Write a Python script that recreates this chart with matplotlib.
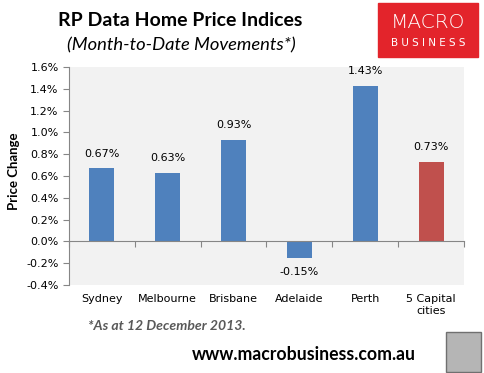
import numpy as np
import matplotlib
matplotlib.use('Agg')
from matplotlib import pyplot as plt
from matplotlib.patches import Rectangle
from matplotlib.ticker import FuncFormatter

cities = ['Sydney', 'Melbourne', 'Brisbane', 'Adelaide', 'Perth', '5 Capital\ncities']
changes = [0.67, 0.63, 0.93, -0.15, 1.43, 0.73]
colours = ['#4f81bd', '#4f81bd', '#4f81bd', '#4f81bd', '#4f81bd', '#c0504d']
y_ticks = [-0.4, -0.2, 0.0, 0.2, 0.4, 0.6, 0.8, 1.0, 1.2, 1.4, 1.6]

fig = plt.figure(figsize=(4.85, 3.73), dpi=100)
ax = fig.add_axes([69 / 485, 88 / 373, 395 / 485, 218 / 373])
ax.set_facecolor('#f2f2f2')

x = np.arange(len(cities))
ax.bar(x, changes, width=0.38, color=colours, zorder=2)

for xi, v in zip(x, changes):
    if v >= 0:
        ax.annotate('%.2f%%' % v, (xi, v), xytext=(0, 7), textcoords='offset points',
                    ha='center', va='bottom', fontsize=8, family='DejaVu Sans')
    else:
        ax.annotate('%.2f%%' % v, (xi, v), xytext=(0, -7), textcoords='offset points',
                    ha='center', va='top', fontsize=8, family='DejaVu Sans')

ax.set_xlim(-0.5, len(cities) - 0.5)
ax.set_ylim(y_ticks[0], y_ticks[-1])
ax.set_yticks(y_ticks)
ax.yaxis.set_major_formatter(FuncFormatter(lambda v, p: '%.1f%%' % v))

for s in ['top', 'right']:
    ax.spines[s].set_visible(False)
ax.spines['left'].set_color('#868686')
ax.spines['bottom'].set_color('#868686')
ax.spines['bottom'].set_position(('data', 0))

ax.set_xticks(np.arange(len(cities) + 1) - 0.5)
ax.set_xticklabels([])
ax.set_xticks(x, cities, minor=True)
ax.tick_params(axis='x', which='major', direction='out', length=4, color='#868686')
ax.tick_params(axis='x', which='minor', length=0, pad=38, labelsize=8)
ax.tick_params(axis='y', direction='out', length=4, color='#868686', labelsize=8)

ax.set_ylabel('Price Change', fontsize=9.5, fontweight='bold', family='Lato')
ax.yaxis.set_label_coords(-0.125, 0.523)

fig.text(0.371, 0.945, 'RP Data Home Price Indices', ha='center', va='center',
         fontsize=14, fontweight='bold', family='Lato')
fig.text(0.373, 0.878, '(Month-to-Date Movements*)', ha='center', va='center',
         fontsize=13.2, style='italic', family='Lato')
fig.text(88 / 485, 1 - 326 / 373, '*As at 12 December 2013.', ha='left', va='center',
         fontsize=10.1, fontweight='bold', style='italic', family='Lato', color='#595959')
fig.text(304 / 485, 1 - 355 / 373, 'www.macrobusiness.com.au', ha='center', va='center',
         fontsize=12.7, fontweight='bold', family='Lato')

# logo boxes
fig.patches.append(Rectangle((378 / 485, 1 - 57 / 373), 100 / 485, 54 / 373,
                             transform=fig.transFigure, color='#e3242b', zorder=0))
fig.text(428 / 485, 1 - 23 / 373, 'MACRO', ha='center', va='center', color='white',
         fontsize=14.5, family='DejaVu Sans', fontweight='light')
fig.text(428 / 485, 1 - 43 / 373, 'B U S I N E S S', ha='center', va='center', color='white',
         fontsize=7.5, family='DejaVu Sans')
fig.patches.append(Rectangle((446 / 485, 1 - 372 / 373), 35 / 485, 40 / 373,
                             transform=fig.transFigure, facecolor='#b5b5b5',
                             edgecolor='#707070', lw=1, zorder=0))

fig.savefig('out.png', dpi=100)
